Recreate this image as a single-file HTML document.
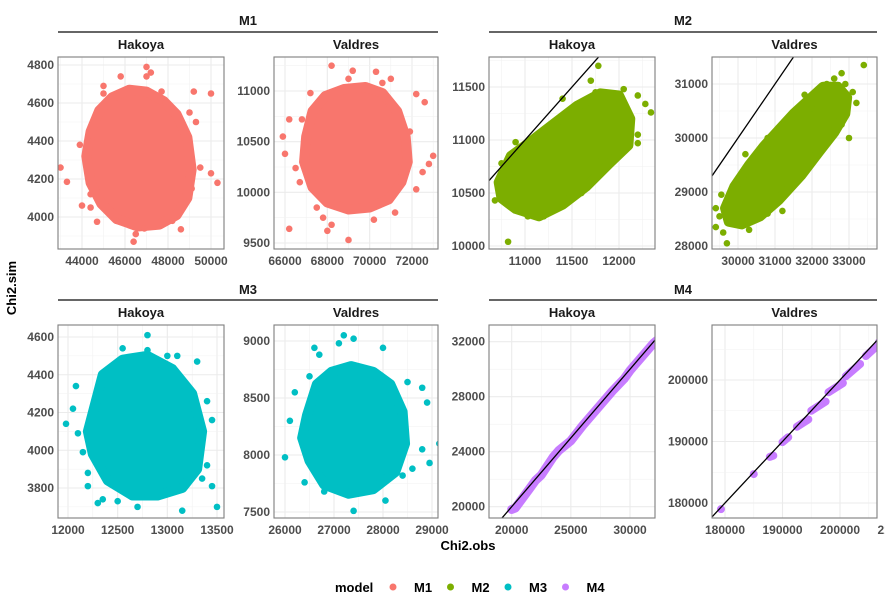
<!DOCTYPE html>
<html><head><meta charset="utf-8">
<style>
html,body{margin:0;background:#fff;overflow:hidden;width:885px;height:613px;}
svg{display:block;font-family:"Liberation Sans",sans-serif;overflow:hidden;}
.tick{font-size:12px;font-weight:bold;fill:#4d4d4d;}
.strip{font-size:13px;font-weight:bold;fill:#1a1a1a;}
</style></head>
<body>
<svg id="chart" width="885" height="613" xmlns="http://www.w3.org/2000/svg"></svg>
<script>
// ---- data arrays ----
const models = ["M1","M2","M3","M4"];
const colors = ["#F8766D","#7CAE00","#00BFC4","#C77CFF"];
const sites = ["Hakoya","Valdres"];
// tick labels
const m1hXTicks=[44000,46000,48000,50000], m1hYTicks=[4000,4200,4400,4600,4800];
const m1vXTicks=[66000,68000,70000,72000], m1vYTicks=[9500,10000,10500,11000];
const m2hXTicks=[11000,11500,12000], m2hYTicks=[10000,10500,11000,11500];
const m2vXTicks=[30000,31000,32000,33000], m2vYTicks=[28000,29000,30000,31000];
const m3hXTicks=[12000,12500,13000,13500], m3hYTicks=[3800,4000,4200,4400,4600];
const m3vXTicks=[26000,27000,28000,29000], m3vYTicks=[7500,8000,8500,9000];
const m4hXTicks=[20000,25000,30000], m4hYTicks=[20000,24000,28000,32000];
const m4vXTicks=[180000,190000,200000,210000], m4vYTicks=[180000,190000,200000];
// dense cores (hull outlines, obs / sim)
const m1hCoreX=[44400,44800,45400,46200,47000,47800,48400,48900,49100,48900,48400,47600,46600,45600,44900,44400,44200];
const m1hCoreY=[4450,4560,4630,4670,4660,4610,4540,4420,4250,4100,4010,3960,3950,3990,4070,4180,4320];
const m1hObs=[43000,43300,43900,44000,44400,44700,45000,45800,47000,47200,47000,46400,46500,48600,49200,50000,50300,50000,49500,49300,48200,47700,45000,44400,49000,44200,44300,45600,48800,49100,47900,46900];
const m1hSim=[4260,4185,4380,4060,4050,3975,4690,4740,4790,4760,4740,3870,3910,3935,4660,4650,4180,4230,4260,4500,3980,4660,4650,4120,4550,4320,4400,3980,4080,4150,4600,3940];
const m1vCoreX=[67000,67300,67900,68800,69800,70600,71300,71700,71800,71500,70900,70000,69000,68000,67300,66900];
const m1vCoreY=[10550,10800,10950,11020,11040,10980,10800,10550,10300,10100,9930,9850,9830,9900,10050,10300];
const m1vObs=[65900,66000,66200,66800,66200,68000,68200,69000,68200,69200,70300,71000,72200,72600,73000,72800,72500,72200,70600,67800,70200,71200,66500,67200,69000,66700,71900,67500,70900];
const m1vSim=[10550,10380,10720,10720,9640,9620,9680,9530,11250,11200,11190,11120,10970,10890,10360,10280,10200,10030,11080,9750,9730,9800,10240,10980,11120,10100,10600,9850,10900];
const m2hCoreX=[10720,10850,11050,11300,11550,11800,12000,12120,12100,11900,11650,11400,11150,10900,10750];
const m2hCoreY=[10600,10850,10980,11150,11320,11440,11420,11200,10950,10780,10560,10390,10280,10350,10450];
const m2hObs=[10680,10720,10780,10820,10850,10900,10750,11030,11200,11400,11700,11780,12050,12200,12280,12340,12200,12200,11800,11600,10950,11750];
const m2hSim=[10430,10550,10620,10040,10430,10980,10780,10280,10280,11390,11560,11700,11480,11420,11340,11260,11050,10970,10800,10500,10920,11450];
const m2vCoreX=[29650,29900,30300,30700,31100,31500,31900,32300,32700,32950,32900,32600,32200,31700,31100,30600,30100,29750];
const m2vCoreY=[28700,29100,29500,29850,30150,30450,30700,30950,30950,30750,30450,30100,29750,29300,28850,28550,28400,28450];
const m2vObs=[29400,29400,29550,29600,29700,30300,30800,31200,30200,30800,32400,32600,32800,32900,33100,33200,33400,32800,33000,31800,32000,29500];
const m2vSim=[28700,28350,28950,28250,28050,28300,28600,28650,29700,30000,31000,31100,31200,31000,30850,30650,31350,30250,30000,30800,30550,28550];
const m3hCoreX=[12250,12350,12550,12800,13050,13250,13350,13300,13150,12900,12650,12400,12250,12200];
const m3hCoreY=[4200,4400,4480,4500,4430,4300,4100,3900,3800,3760,3760,3840,3980,4100];
const m3hObs=[11980,12080,12050,12100,12150,12200,12300,12350,12500,12700,12800,12800,12550,13000,13100,13300,13400,13450,13450,13500,13150,13400,13350,12200];
const m3hSim=[4140,4340,4220,4090,3990,3880,3720,3740,3730,3700,4610,4530,4540,4500,4500,4470,4260,4160,3810,3700,3680,3920,3850,3810];
const m3vCoreX=[26450,26650,26950,27350,27800,28150,28400,28450,28250,27800,27300,26800,26500,26350];
const m3vCoreY=[8350,8620,8730,8780,8730,8620,8380,8100,7850,7700,7660,7740,7950,8150];
const m3vObs=[26000,26100,26200,26500,26600,26700,27100,27200,27400,28000,27400,28050,28500,28800,28900,29150,28950,28800,28600,28400,26400,26800];
const m3vSim=[7980,8300,8550,8690,8940,8880,8980,9050,9020,8940,7510,7600,8640,8590,8460,8100,7930,8050,7880,7820,7760,7680];
const m4hObs=[20000,20300,21500,22000,22500,23500,24000,25000,26000,26500,27500,28500,29500,30000,31000,31500,32000,32700];
const m4hSim=[19800,19900,21300,21900,22300,23600,24100,24800,25900,26400,27400,28400,29300,29900,30900,31400,31900,32400];
const m4vObs=[179300,185000,187800,188400,190000,191000,192500,194500,195000,197500,198000,200500,201000,203500,204500,206500,206800,208800];
const m4vSim=[179000,184700,187500,187700,189900,190700,192400,193600,195000,196500,198000,199500,200600,202600,203900,205600,206200,207400];
const m4vCluster=[0,1,2,2,3,3,4,4,5,5,6,6,7,7,8,8,9,9];

// ---- layout ----
const svg=document.getElementById('chart');
const NS='http://www.w3.org/2000/svg';
function mk(tag,attrs,parent){const e=document.createElementNS(NS,tag);for(const k in attrs)e.setAttribute(k,attrs[k]);(parent||svg).appendChild(e);return e;}

const panels=[
 {m:0,s:0,box:[58,57,224,249],xt:m1hXTicks,yt:m1hYTicks,xa:[44000,82,50000,211],ya:[4000,217,4800,65],core:[m1hCoreX,m1hCoreY],obs:m1hObs,sim:m1hSim},
 {m:0,s:1,box:[274,57,438,249],xt:m1vXTicks,yt:m1vYTicks,xa:[66000,285,72000,412],ya:[9500,243,11000,91],core:[m1vCoreX,m1vCoreY],obs:m1vObs,sim:m1vSim},
 {m:1,s:0,box:[489,57,655,249],xt:m2hXTicks,yt:m2hYTicks,xa:[11000,525,12000,619],ya:[10000,246,11500,87],core:[m2hCoreX,m2hCoreY],obs:m2hObs,sim:m2hSim,diag:true},
 {m:1,s:1,box:[712,57,877,249],xt:m2vXTicks,yt:m2vYTicks,xa:[30000,738,33000,849],ya:[28000,246,31000,84],core:[m2vCoreX,m2vCoreY],obs:m2vObs,sim:m2vSim,diag:true},
 {m:2,s:0,box:[58,325,224,518],xt:m3hXTicks,yt:m3hYTicks,xa:[12000,68,13500,217],ya:[3800,488,4600,337],core:[m3hCoreX,m3hCoreY],obs:m3hObs,sim:m3hSim},
 {m:2,s:1,box:[274,325,438,518],xt:m3vXTicks,yt:m3vYTicks,xa:[26000,285,29000,432],ya:[7500,512,9000,341],core:[m3vCoreX,m3vCoreY],obs:m3vObs,sim:m3vSim},
 {m:3,s:0,box:[489,325,655,518],xt:m4hXTicks,yt:m4hYTicks,xa:[20000,511.7,30000,630],ya:[20000,506.7,32000,341.7],band:[m4hObs,m4hSim],diag:true},
 {m:3,s:1,box:[712,325,877,518],xt:m4vXTicks,yt:m4vYTicks,xa:[180000,725,200000,840],ya:[180000,503,200000,380],clusters:[m4vObs,m4vSim,m4vCluster],diag:true}
];

panels.forEach((p,i)=>{
 const [x0,y0,x1,y1]=p.box;
 const sx=v=>p.xa[1]+(v-p.xa[0])*(p.xa[3]-p.xa[1])/(p.xa[2]-p.xa[0]);
 const sy=v=>p.ya[1]+(v-p.ya[0])*(p.ya[3]-p.ya[1])/(p.ya[2]-p.ya[0]);
 const g=mk('g',{});
 
 
 const cid='clip'+i;
 const cp=mk('clipPath',{id:cid},g); mk('rect',{x:x0,y:y0,width:x1-x0,height:y1-y0},cp);
 const grid=mk('g',{'clip-path':`url(#${cid})`},g);
 const dx=p.xt[1]-p.xt[0], dy=p.yt[1]-p.yt[0];
 for(let k=-2;k<p.xt.length+2;k++){
   const v=p.xt[0]+k*dx;
   mk('line',{x1:sx(v),x2:sx(v),y1:y0,y2:y1,stroke:'#ebebeb','stroke-width':1.1},grid);
   mk('line',{x1:sx(v+dx/2),x2:sx(v+dx/2),y1:y0,y2:y1,stroke:'#f2f2f2','stroke-width':0.6},grid);
 }
 for(let k=-2;k<p.yt.length+2;k++){
   const v=p.yt[0]+k*dy;
   mk('line',{y1:sy(v),y2:sy(v),x1:x0,x2:x1,stroke:'#ebebeb','stroke-width':1.1},grid);
   mk('line',{y1:sy(v+dy/2),y2:sy(v+dy/2),x1:x0,x2:x1,stroke:'#f2f2f2','stroke-width':0.6},grid);
 }
 const marks=mk('g',{'clip-path':`url(#${cid})`,fill:colors[p.m]},g);
 const col=colors[p.m];
 if(p.core){
   const pts=p.core[0].map((v,j)=>sx(v)+','+sy(p.core[1][j])).join(' ');
   const c=mk('polygon',{points:pts,fill:col,stroke:col,'stroke-width':10,'stroke-linejoin':'round'},marks);
   
   
   p.obs.forEach((v,j)=>{
     const d=mk('circle',{cx:sx(v),cy:sy(p.sim[j]),r:3.3},marks);
     
     
   });
 }
 if(p.band){
   const pts=p.band[0].map((v,j)=>sx(v)+','+sy(p.band[1][j])).join(' ');
   const b=mk('polyline',{points:pts,fill:'none',stroke:col,'stroke-width':9,'stroke-linecap':'round','stroke-linejoin':'round'},marks);
   
   
   p.band[0].forEach((v,j)=>{
     const d=mk('circle',{cx:sx(v),cy:sy(p.band[1][j]),r:3.5},marks);
     
     
   });
 }
 if(p.clusters){
   const [ox,oy,cl]=p.clusters;
   const groups={};
   cl.forEach((c,j)=>{(groups[c]=groups[c]||[]).push(j);});
   Object.values(groups).forEach(idx=>{
     const pts=idx.map(j=>sx(ox[j])+','+sy(oy[j])).join(' ');
     const b=mk('polyline',{points:pts+(idx.length===1?' '+pts:''),fill:'none',stroke:col,'stroke-width':8,'stroke-linecap':'round'},marks);
     
     
   });
 }
 if(p.diag){
   const lo=Math.min(p.xa[0],p.ya[0])-1e6, hi=Math.max(p.xa[2],p.ya[2])+1e6;
   const l=mk('line',{x1:sx(lo),y1:sy(lo),x2:sx(hi),y2:sy(hi),stroke:'#000','stroke-width':1.3},marks);
   
   
 }
 mk('rect',{x:x0,y:y0,width:x1-x0,height:y1-y0,fill:'none',stroke:'#7f7f7f','stroke-width':1.1},g);
 p.xt.forEach(v=>{
   const t=mk('text',{x:sx(v),y:y1+16,'text-anchor':'middle',class:'tick'},g); t.textContent=v;
    
 });
 p.yt.forEach(v=>{
   const t=mk('text',{x:x0-4,y:sy(v)+4,'text-anchor':'end',class:'tick'},g); t.textContent=v;
    
 });
 const h=mk('text',{x:(x0+x1)/2,y:y0-8,'text-anchor':'middle',class:'strip'},g); h.textContent=sites[p.s];
  
});
// model strips
[[0,58,438,20,32],[1,489,877,20,32],[2,58,438,289,300],[3,489,877,289,300]].forEach(([m,a,b,ty,ly])=>{
 const t=mk('text',{x:(a+b)/2,y:ty+5,'text-anchor':'middle',class:'strip'}); t.textContent=models[m];
  
 const l=mk('line',{x1:a,x2:b,y1:ly,y2:ly,stroke:'#333','stroke-width':1.6});
  
});
const xt=mk('text',{x:468,y:550,'text-anchor':'middle','font-size':13,'font-weight':'bold',fill:'#000'}); xt.textContent='Chi2.obs';
 
const yt=mk('text',{x:0,y:0,transform:'translate(16,288) rotate(-90)','text-anchor':'middle','font-size':13,'font-weight':'bold',fill:'#000'}); yt.textContent='Chi2.sim';
 
const lg=mk('g',{});
 
const lt=mk('text',{x:335,y:592,'font-size':13,'font-weight':'bold',fill:'#000'},lg); lt.textContent='model';
 
models.forEach((m,i)=>{
 const e=mk('g',{},lg);
  
 mk('circle',{cx:393+i*57.5,cy:587,r:3.5,fill:colors[i]},e);
 const t=mk('text',{x:414+i*57.5,y:592,'font-size':13,'font-weight':'bold',fill:'#000'},e); t.textContent=m;
});
</script>
</body></html>
